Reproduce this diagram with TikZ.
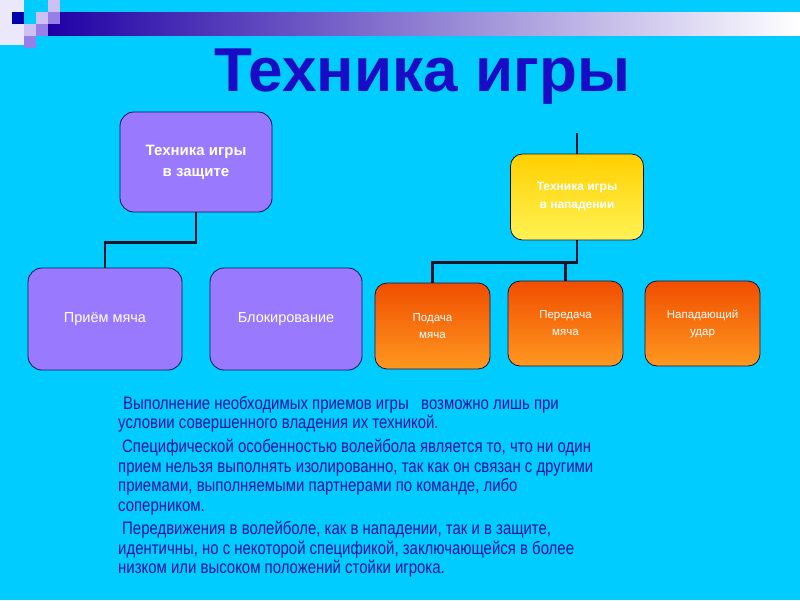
\documentclass[tikz,border=0pt]{standalone}
\usepackage{fontspec}
\setmainfont{Liberation Sans}
\newfontfamily\narrowfont[FakeStretch=0.83]{Liberation Sans}
\usetikzlibrary{positioning, calc}
\definecolor{SlideCyan}{RGB}{0, 204, 255}
\definecolor{TitleBlue}{RGB}{24, 12, 196}
\definecolor{BodyBlue}{RGB}{22, 18, 160}
\definecolor{BarBlue}{RGB}{32, 0, 165}
\definecolor{BarViolet}{RGB}{135, 95, 212}
\definecolor{DeepNavy}{RGB}{0, 0, 170}
\definecolor{PaleLilac}{RGB}{236, 232, 252}
\definecolor{SoftLilac}{RGB}{205, 192, 245}
\definecolor{MidLilac}{RGB}{150, 128, 232}
\definecolor{BoxViolet}{RGB}{153, 122, 255}
\definecolor{BoxEdge}{RGB}{20, 20, 70}
\definecolor{GoldTop}{RGB}{255, 208, 0}
\definecolor{GoldBottom}{RGB}{255, 242, 85}
\definecolor{FlameTop}{RGB}{240, 78, 0}
\definecolor{FlameBottom}{RGB}{255, 152, 32}
\definecolor{LinkDark}{RGB}{25, 20, 40}

\begin{document}
\begin{tikzpicture}[
    x=1pt,
    y=-1pt,
    violetbox/.style={
        rectangle,
        rounded corners=14pt,
        draw=BoxEdge,
        line width=0.8pt,
        fill=BoxViolet,
        align=center,
        text=white,
        inner sep=0pt
    },
    goldbox/.style={
        rectangle,
        rounded corners=12pt,
        draw=BoxEdge,
        line width=0.8pt,
        top color=GoldTop,
        bottom color=GoldBottom,
        align=center,
        text=white,
        inner sep=0pt,
        font=\fontsize{12}{18}\selectfont\bfseries
    },
    flamebox/.style={
        rectangle,
        rounded corners=12pt,
        draw=BoxEdge,
        line width=0.8pt,
        top color=FlameTop,
        bottom color=FlameBottom,
        align=center,
        text=white,
        inner sep=0pt,
        minimum width=115pt,
        minimum height=85pt,
        font=\fontsize{11.5}{17}\selectfont
    },
    paratext/.style={
        anchor=north west,
        align=left,
        inner sep=0pt,
        text=BodyBlue,
        font=\narrowfont\fontsize{18}{19.5}\selectfont
    },
    treeline/.style={
        draw=LinkDark,
        line width=2.2pt
    }
]
\useasboundingbox (0,0) rectangle (800,600);
% -------------------------------------------------------------
% SLIDE BACKGROUND
% -------------------------------------------------------------
\fill[SlideCyan] (0,0) rectangle (800,600);
\shade[left color=BarBlue, middle color=BarViolet, right color=white]
(48,12) rectangle (800,35);
% corner squares
\fill[PaleLilac] (0,0) rectangle (24,45);
\fill[DeepNavy] (12,12) rectangle (24,24);
\fill[SoftLilac] (48,0) rectangle (60,12);
\fill[SoftLilac] (36,12) rectangle (48,24);
\fill[MidLilac] (48,12) rectangle (60,24);
\fill[SoftLilac] (24,24) rectangle (36,36);
\fill[MidLilac] (36,24) rectangle (48,36);
\fill[MidLilac] (24,36) rectangle (36,48);
% -------------------------------------------------------------
% TITLE
% -------------------------------------------------------------
\node[
    anchor=base,
    inner sep=0pt,
    text=TitleBlue,
    font=\fontsize{62}{70}\selectfont\bfseries
] (titleNode) at (422,91)
{Техника игры};
% -------------------------------------------------------------
% DEFENCE BRANCH
% -------------------------------------------------------------
\node[
    violetbox,
    minimum width=152pt,
    minimum height=100pt,
    font=\fontsize{15}{21}\selectfont\bfseries
] (defenceNode) at (196,162)
{Техника игры\\в защите};
\node[
    violetbox,
    minimum width=154pt,
    minimum height=102pt,
    font=\fontsize{14.5}{20}\selectfont
] (receptionNode) at (105,319)
{Приём мяча};
\node[
    violetbox,
    minimum width=152pt,
    minimum height=102pt,
    font=\fontsize{14.5}{20}\selectfont
] (blockNode) at (286,319)
{Блокирование};
\draw[treeline]
(defenceNode.south)
--
++(0,30)
-|
(receptionNode.north);
% -------------------------------------------------------------
% ATTACK BRANCH
% -------------------------------------------------------------
\node[
    goldbox,
    minimum width=133pt,
    minimum height=86pt
] (attackNode) at (577,197)
{Техника игры\\в нападении};
\node[flamebox, minimum height=86pt] (serveNode) at (432.5,326)
{Подача\\мяча};
\node[flamebox] (passNode) at (565.5,323.5)
{Передача\\мяча};
\node[flamebox] (spikeNode) at (702.5,323.5)
{Нападающий\\удар};
\coordinate (attackTop) at (577,133);
\draw[treeline]
(attackTop)
--
(attackNode.north);
\draw[treeline]
(attackNode.south)
--
++(0,22) coordinate (attackJoin)
-|
(serveNode.north);
\draw[treeline]
(passNode.north)
--
(passNode.north |- attackJoin);
% -------------------------------------------------------------
% TEXT
% -------------------------------------------------------------
\node[paratext] (paraOne) at (118,396)
{\hspace*{5pt}Выполнение необходимых приемов игры \ \ возможно лишь при\\
условии совершенного владения их техникой.};
\node[paratext] (paraTwo) at (118,439)
{\hspace*{4pt}Специфической особенностью волейбола является то, что ни один\\
прием нельзя выполнять изолированно, так как он связан с другими\\
приемами, выполняемыми партнерами по команде, либо\\
соперником.};
\node[paratext] (paraThree) at (118,521)
{\hspace*{4pt}Передвижения в волейболе, как в нападении, так и в защите,\\
идентичны, но с некоторой спецификой, заключающейся в более\\
низком или высоком положений стойки игрока.};
\end{tikzpicture}
\end{document}
